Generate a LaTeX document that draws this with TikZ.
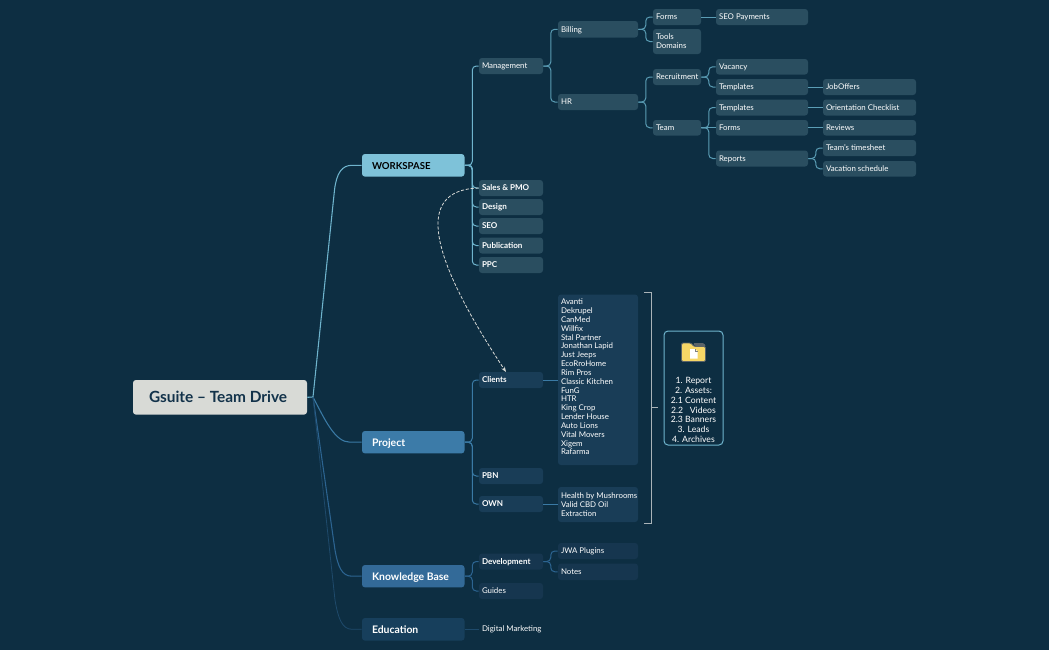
\documentclass[tikz,border=0pt]{standalone}
\usepackage{fontspec}
\setmainfont{Lato}
\usetikzlibrary{arrows.meta}
\definecolor{bgc}{HTML}{0D2E42}
\definecolor{leafc}{HTML}{2A4E60}
\definecolor{prjc}{HTML}{193D57}
\definecolor{kbc}{HTML}{16364F}
\definecolor{wsc}{HTML}{7EC2D9}
\definecolor{pc}{HTML}{3C7BA8}
\definecolor{kc}{HTML}{336A98}
\definecolor{ec}{HTML}{173F5C}
\definecolor{rootc}{HTML}{D8DAD6}
\definecolor{inkc}{HTML}{12324A}
\definecolor{lws}{HTML}{6FB4CD}
\definecolor{lws2}{HTML}{5A9DB5}
\definecolor{lp}{HTML}{3A7AA5}
\definecolor{lk}{HTML}{2C6491}
\definecolor{le}{HTML}{1E4A6B}
\definecolor{brk}{HTML}{A9B3B8}
\definecolor{foldc}{HTML}{F6D766}
\definecolor{foldl}{HTML}{5B6468}
\tikzset{
  base/.style={rectangle,rounded corners=2.2pt,inner xsep=0pt,inner ysep=0pt,text=white,font=\fontsize{5.9}{6.62}\selectfont},
  leaf/.style={base,fill=leafc},
  leafb/.style={leaf,font=\fontsize{6.05}{6.62}\selectfont\bfseries},
  pbox/.style={base,fill=prjc},
  pboxb/.style={pbox,font=\fontsize{6.05}{6.62}\selectfont\bfseries},
  kbox/.style={base,fill=kbc},
  kboxb/.style={kbox,font=\fontsize{6.05}{6.62}\selectfont\bfseries},
  dmbox/.style={base,fill=bgc},
  top/.style={base,font=\fontsize{7.8}{9}\selectfont\bfseries},
  branch/.style={line width=0.75pt,rounded corners=3pt},
  wsl/.style={branch,draw=lws},
  wsl2/.style={branch,draw=lws2},
  pl/.style={branch,draw=lp},
  kl/.style={branch,draw=lk},
  el/.style={branch,draw=le},
  rootline/.style={line width=0.8pt},
  linkline/.style={draw=rootc,line width=0.6pt,dash pattern=on 2.4pt off 1.3pt,-{Stealth[length=4pt,width=3pt]}},
}
% \bx{name}{x1}{y1}{x2}{y2}{inset}{style}{text}
\newcommand{\bx}[8]{%
  \pgfmathsetmacro{\bxw}{(#4-#2)*0.75}%
  \pgfmathsetmacro{\bxh}{(#5-#3)*0.75}%
  \pgfmathsetmacro{\bxi}{#6*0.75}%
  \node[#7,minimum width=\bxw pt,minimum height=\bxh pt] (#1) at ({(#2+#4)/2},{(#3+#5)/2}) {\vbox{\kern0.28em\hbox to \bxw pt{\kern\bxi pt\begin{tabular}[c]{@{}l@{}}#8\end{tabular}\hss}}};%
}
\newcommand{\conn}[3]{\draw[#1] (#2.east) -- ++(7.5,0) |- (#3.west);}
\newcommand{\straight}[3]{\draw[#1] (#2.east) -- (#2.east -| #3.west);}
\begin{document}
\begin{tikzpicture}[x=0.75pt,y=-0.75pt]
\fill[bgc] (0,0) rectangle (1049,650);
\useasboundingbox (0,0) rectangle (1049,650);

% root
\bx{root}{133}{380}{307}{414.6}{16}{base,fill=rootc,text=inkc,font=\fontsize{11.55}{13}\selectfont\bfseries}{Gsuite -- Team Drive}
\coordinate (rootj) at (313,397);

% main topics
\bx{ws}{362}{154}{464.5}{176.6}{10}{top,fill=wsc,text=black,font=\fontsize{7.2}{9}\selectfont\bfseries}{WORKSPASE}
\bx{prj}{362}{431}{464.5}{453.4}{10}{top,fill=pc}{Project}
\bx{kb}{362}{565}{464.5}{587.4}{10}{top,fill=kc}{Knowledge Base}
\bx{edu}{362}{618}{464.5}{640.6}{10}{top,fill=ec}{Education}

% workspase
\bx{mgmt}{479}{58}{543}{74}{3}{leaf}{Management}
\bx{sales}{479}{180}{543}{196}{3}{leafb}{Sales \& PMO}
\bx{design}{479}{199}{543}{215}{3}{leafb}{Design}
\bx{seo}{479}{218}{543}{234}{3}{leafb}{SEO}
\bx{pub}{479}{237.5}{543}{253.5}{3}{leafb}{Publication}
\bx{ppc}{479}{257}{543}{273}{3}{leafb}{PPC}
\bx{billing}{558}{21}{638}{37.5}{3}{leaf}{Billing}
\bx{hr}{558}{94}{638}{110}{3}{leaf}{HR}
\bx{forms}{653}{9}{701}{25}{3}{leaf}{Forms}
\bx{tools}{653}{29}{701}{54}{3}{leaf}{Tools\\Domains}
\bx{recr}{653}{69}{701}{85}{3}{leaf}{Recruitment}
\bx{team}{653}{120}{701}{135.5}{3}{leaf}{Team}
\bx{seop}{716}{9}{808}{25}{3}{leaf}{SEO Payments}
\bx{vac}{716}{59}{808}{74.5}{3}{leaf}{Vacancy}
\bx{tpla}{716}{79}{808}{95}{3}{leaf}{Templates}
\bx{tplb}{716}{99.5}{808}{115.5}{3}{leaf}{Templates}
\bx{formsb}{716}{120}{808}{135.5}{3}{leaf}{Forms}
\bx{reports}{716}{150.5}{808}{166.5}{3}{leaf}{Reports}
\bx{job}{823}{79}{916}{95}{3}{leaf}{JobOffers}
\bx{orient}{823}{99.5}{916}{115.5}{3}{leaf}{Orientation Checklist}
\bx{reviews}{823}{120}{916}{135.5}{3}{leaf}{Reviews}
\bx{tsheet}{823}{140}{916}{156}{3}{leaf}{Team's timesheet}
\bx{vsched}{823}{161}{916}{176.5}{3}{leaf}{Vacation schedule}

% project
\bx{clients}{479}{372}{543}{388}{3}{pboxb}{Clients}
\bx{pbn}{479}{468}{543}{484}{3}{pboxb}{PBN}
\bx{own}{479}{496}{543}{512}{3}{pboxb}{OWN}
\bx{clist}{558}{294.5}{638}{465}{3}{pbox}{Avanti\\Dekrupel\\CanMed\\Willfix\\Stal Partner\\Jonathan Lapid\\Just Jeeps\\EcoRroHome\\Rim Pros\\Classic Kitchen\\FunG\\HTR\\King Crop\\Lender House\\Auto Lions\\Vital Movers\\Xigem\\Rafarma\\[4.2pt]}
\bx{health}{558}{487}{638}{522}{3}{pbox}{Health by Mushrooms\\Valid CBD Oil\\Extraction}

% knowledge base
\bx{dev}{479}{553.5}{543}{569.5}{3}{kboxb}{Development}
\bx{guides}{479}{583}{543}{599}{3}{kbox}{Guides}
\bx{jwa}{558}{543}{638}{559}{3}{kbox}{JWA Plugins}
\bx{notes}{558}{563.5}{638}{580}{3}{kbox}{Notes}
\bx{dm}{479}{621}{543}{637}{3}{dmbox}{Digital Marketing}

% summary box
\node[draw=lws,line width=0.75pt,fill=bgc,rounded corners=3pt,minimum width=44.25pt,minimum height=85.5pt,inner sep=0pt] (sumbox) at (693.5,388) {};
\node[text=white,align=center,font=\fontsize{6.5}{7.35}\selectfont,inner sep=0pt] (sumtext) at (693.5,410) {1. Report\\2. Assets:\\2.1 Content\\2.2\ \ \ Videos\\2.3 Banners\\3. Leads\\4. Archives};

% folder icon
\filldraw[draw=foldl,line width=0.6pt,fill=foldl,rounded corners=1pt] (693,343.5) -- (704,343.5) -- (705.5,347) -- (698,347) -- cycle;
\filldraw[draw=foldl,line width=0.7pt,fill=foldc,rounded corners=1pt] (681.5,343) -- (691,343) -- (694,346.5) -- (705.5,346.5) -- (705.5,361.5) -- (681.5,361.5) -- cycle;
\fill[white] (690,349) -- (695,349) -- (697.5,351.5) -- (697.5,358.5) -- (690,358.5) -- cycle;
\draw[gray,line width=0.3pt] (695,349) -- (695,351.5) -- (697.5,351.5);

% bracket
\coordinate (brtop) at (644,292.3);
\coordinate (brbot) at (644,523.3);
\coordinate (brmid) at (651.5,407.8);
\coordinate (brend) at (658,407.8);
\draw[brk,line width=0.9pt] (brtop) -- (651.5,292.3) -- (651.5,523.3) -- (brbot);
\draw[brk,line width=0.9pt] (brmid) -- (brend);

% root connectors
\draw[rootline,draw=lws] (root.east) -- (rootj);
\draw[rootline,draw=lws] (rootj) -- (334.5,190) .. controls (336.5,173) and (342,165.3) .. (352,165.3) -- (ws.west);
\draw[rootline,draw=lp] (rootj) .. controls (325,420) and (335,442.2) .. (350,442.2) -- (prj.west);
\draw[rootline,draw=lk] (rootj) -- (335,550) .. controls (338,567) and (342,576.2) .. (352,576.2) -- (kb.west);
\draw[rootline,draw=le,line width=0.6pt] (rootj) -- (335,600) .. controls (338,618) and (342,629.3) .. (352,629.3) -- (edu.west);

% workspase branches
\foreach \c in {mgmt,sales,design,seo,pub,ppc}{\conn{wsl}{ws}{\c}}
\foreach \c in {billing,hr}{\conn{wsl2}{mgmt}{\c}}
\foreach \c in {forms,tools}{\conn{wsl2}{billing}{\c}}
\straight{wsl2}{forms}{seop}
\foreach \c in {recr,team}{\conn{wsl2}{hr}{\c}}
\foreach \c in {vac,tpla}{\conn{wsl2}{recr}{\c}}
\straight{wsl2}{tpla}{job}
\foreach \c in {tplb,reports}{\conn{wsl2}{team}{\c}}
\straight{wsl2}{team}{formsb}
\straight{wsl2}{tplb}{orient}
\straight{wsl2}{formsb}{reviews}
\foreach \c in {tsheet,vsched}{\conn{wsl2}{reports}{\c}}

% project branches
\foreach \c in {clients,pbn,own}{\conn{pl}{prj}{\c}}
\straight{pl}{clients}{clist}
\straight{pl}{own}{health}

% knowledge branches
\foreach \c in {dev,guides}{\conn{kl}{kb}{\c}}
\foreach \c in {jwa,notes}{\conn{kl}{dev}{\c}}
\straight{el}{edu}{dm}

% dashed relation
\draw[linkline] (sales.west) .. controls (412,190) and (432,260) .. (506,372);
\end{tikzpicture}
\end{document}
